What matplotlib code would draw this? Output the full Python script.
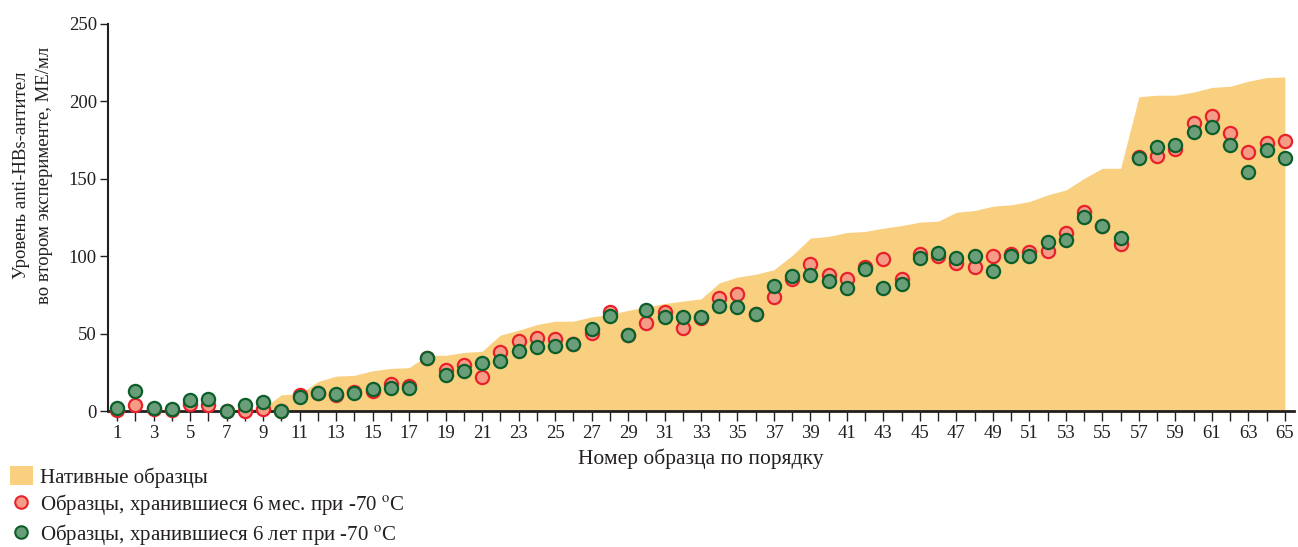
"""
Anti-HBs antibody levels: native samples vs. samples stored at -70 C.
Writes out.png (1298x547).
"""
import numpy as np
import matplotlib
matplotlib.use("Agg")
import matplotlib.pyplot as plt
from matplotlib.patches import Patch
from matplotlib.lines import Line2D

plt.rcParams["font.family"] = ["Liberation Serif", "DejaVu Serif"]
plt.rcParams["mathtext.fontset"] = "stix"

# --- data ---
samples = list(range(1, 66))

native = [0, 0, 0, 0, 0.5, 0.5, 1, 1, 1.5,
          10.5, 11, 19, 22.5, 23, 26, 27.5, 28,
          36, 36, 37.8, 38.6, 49, 52.2, 55.8, 58, 58, 60.8, 62.3, 65, 67.2, 69.4,
          71, 72.4, 82.7, 86.5, 88.3, 91.3, 100.5, 111.7, 112.8, 115.3, 116,
          118.1, 119.8, 122, 122.6, 128.4, 129.5, 132.3, 133.2, 135.3, 139.6,
          142.8, 150.3, 156.8, 156.8, 203, 204, 204, 206, 209, 209.8, 213,
          215.4, 215.8]

months6 = [0.5, 3.7, 1, 0.7, 4.5, 3.7, 0, 0, 1, 0,
           10.3, 11.5, 10.3, 12, 13, 17.2, 16.3, 34, 26.4, 30,
           22.1, 37.8, 45.1, 47.3, 46.6, 43, 50.7, 64.2, 49, 57.1,
           64.2, 53.3, 60, 73, 75.4, 62.5, 73.7, 85.5, 95, 88,
           85.3, 93, 98, 85.3, 101.6, 99.9, 95.6, 93, 99.9, 101.6,
           102.4, 103.3, 114.9, 128.4, 119.8, 108, 164.3, 165, 169.2, 185.8,
           190.3, 179.6, 167.3, 172.9, 174.2]

years6 = [1.7, 12.9, 1.7, 1.1, 7.1, 7.9, 0.3, 3.7, 5.6, 0,
          9.2, 11.8, 11, 11.4, 14, 15, 14.6, 34, 23, 26,
          31.1, 32.6, 38.9, 41.4, 42.3, 43.2, 53, 61.4, 49, 65,
          61, 60.8, 60.8, 67.7, 67.2, 62.9, 80.8, 87, 87.8, 84,
          79.7, 92, 79.5, 81.8, 99, 102, 99, 99.9, 90.2, 99.9,
          99.9, 109.1, 110.2, 125.6, 119.2, 111.9, 163.2, 170.3, 171.8, 180.4,
          183.2, 172, 154.2, 168.6, 163.5]

x_labels = [str(n) if n % 2 else "" for n in samples]
y_ticks = [0, 50, 100, 150, 200, 250]

FILL = "#F8D07F"
RED_FACE, RED_EDGE = "#F59C86", "#E8212B"
GREEN_FACE, GREEN_EDGE = "#6A9E78", "#0C5F2B"
INK = "#231F20"

fig = plt.figure(figsize=(12.98, 5.47), dpi=100)
ax = fig.add_axes([108 / 1298, 1 - 411 / 547, 1186 / 1298, 387 / 547])

ax.fill_between(samples, native, 0, color=FILL, lw=0, zorder=1)
ax.plot(samples, months6, "o", ms=9.5, mfc=RED_FACE, mec=RED_EDGE, mew=1.6,
        clip_on=False, zorder=4)
ax.plot(samples, years6, "o", ms=9.5, mfc=GREEN_FACE, mec=GREEN_EDGE, mew=1.6,
        clip_on=False, zorder=5)

ax.set_xlim(0.5, 65.5)
ax.set_ylim(0, 250)
ax.set_xticks(samples)
ax.set_xticklabels(x_labels)
ax.set_yticks(y_ticks)
ax.tick_params(axis="x", length=7, width=1, color=INK, pad=3, labelsize=13.5,
               labelcolor=INK)
ax.tick_params(axis="y", length=6, width=1, color=INK, pad=2, labelsize=13.5,
               labelcolor=INK)
for s in ("top", "right"):
    ax.spines[s].set_visible(False)
ax.spines["bottom"].set_linewidth(2)
ax.spines["left"].set_linewidth(1.5)
for s in ("bottom", "left"):
    ax.spines[s].set_color(INK)
    ax.spines[s].set_zorder(3)

ax.set_xlabel("Номер образца по порядку", fontsize=15.5, color=INK, labelpad=5)
fig.text(22 / 1298, 1 - 175 / 547, "Уровень anti-HBs-антител", rotation=90,
         ha="center", va="center", fontsize=13.5, color=INK)
fig.text(45 / 1298, 1 - 175 / 547, "во втором эксперименте, МЕ/мл", rotation=90,
         ha="center", va="center", fontsize=13.5, color=INK)

handles = [
    Patch(facecolor=FILL, edgecolor="none"),
    Line2D([], [], ls="none", marker="o", ms=9, mfc=RED_FACE, mec=RED_EDGE, mew=1.5),
    Line2D([], [], ls="none", marker="o", ms=9, mfc=GREEN_FACE, mec=GREEN_EDGE, mew=1.5),
]
labels = ["Нативные образцы",
          "Образцы, хранившиеся 6 мес. при -70 $^{\\mathrm{o}}$C",
          "Образцы, хранившиеся 6 лет при -70 $^{\\mathrm{o}}$C"]
fig.legend(handles, labels, loc="upper left", bbox_to_anchor=(10 / 1298, 1 - 466 / 547),
           frameon=False, fontsize=15, borderpad=0, borderaxespad=0,
           handlelength=1.1, handleheight=1.05, handletextpad=0.35,
           labelspacing=0.22, labelcolor=INK)

fig.savefig("out.png", dpi=100)
